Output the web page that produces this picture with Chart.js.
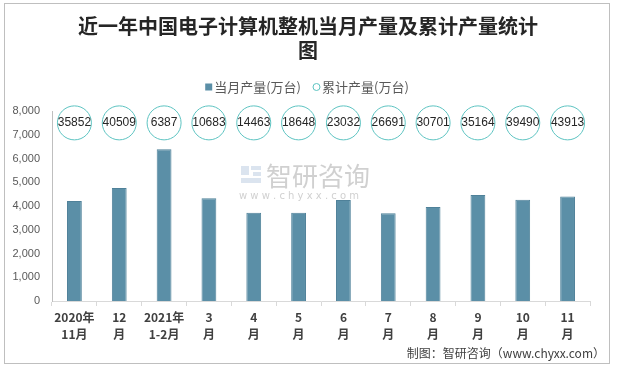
<!DOCTYPE html>
<html>
<head>
<meta charset="utf-8">
<script src="https://cdn.jsdelivr.net/npm/chart.js@4.4.1/dist/chart.umd.min.js"></script>
<style>
  html, body { margin: 0; padding: 0; background: #fff; }
  #wrap { width: 618px; height: 367px; position: relative; }
</style>
</head>
<body>
<div id="wrap"><canvas id="chart"></canvas></div>
<script>
// data
const categories = [
  ['2020年', '11月'], ['12', '月'], ['2021年', '1-2月'], ['3', '月'], ['4', '月'], ['5', '月'],
  ['6', '月'], ['7', '月'], ['8', '月'], ['9', '月'], ['10', '月'], ['11', '月']
];
const monthlyOutput = [4210, 4760, 6387, 4330, 3720, 3720, 4250, 3700, 3960, 4460, 4260, 4400];
const cumulativeOutput = [35852, 40509, 6387, 10683, 14463, 18648, 23032, 26691, 30701, 35164, 39490, 43913];
const labelRow = categories.map(() => 7500); // height where the cumulative circles sit
const yTicks = [0, 1000, 2000, 3000, 4000, 5000, 6000, 7000, 8000];

const titleLines = ['近一年中国电子计算机整机当月产量及累计产量统计', '图'];
const seriesNames = ['当月产量(万台)', '累计产量(万台)'];
const sourceText = '制图：智研咨询（www.chyxx.com）';

const BAR_COLOR = '#5b8fa7';
const RING_COLOR = '#5cc3c1';
const CJK = '"Noto Sans CJK SC", sans-serif';

// title, legend, watermark, footer and frame drawn around the plot
const decorations = {
  id: 'decorations',
  beforeDatasetsDraw(chart) {
    const ctx = chart.ctx;
    ctx.save();
    // watermark
    ctx.fillStyle = 'rgba(190,205,225,0.55)';
    ctx.fillRect(241, 166, 8, 9);
    ctx.fillRect(251, 166, 10, 4);
    ctx.fillRect(253, 172, 8, 4);
    ctx.fillRect(241, 178, 20, 5);
    ctx.fillStyle = 'rgba(170,170,170,0.55)';
    ctx.font = '26px ' + CJK;
    ctx.textBaseline = 'middle';
    ctx.textAlign = 'left';
    ctx.fillText('智研咨询', 266, 176);
    ctx.font = '10px "DejaVu Sans", sans-serif';
    ctx.fillText('w w w . c h y x x . c o m', 239, 196);
    ctx.restore();
  },
  afterDraw(chart) {
    const ctx = chart.ctx;
    ctx.save();
    // frame
    ctx.strokeStyle = '#bfbfbf';
    ctx.lineWidth = 1;
    ctx.strokeRect(4.5, 3.5, 605, 360);

    // title
    ctx.fillStyle = '#262626';
    ctx.font = 'bold 20px ' + CJK;
    ctx.textAlign = 'center';
    ctx.textBaseline = 'middle';
    ctx.fillText(titleLines[0], 308, 26);
    ctx.fillText(titleLines[1], 308, 50);

    // legend
    ctx.font = '13px ' + CJK;
    ctx.textAlign = 'left';
    const w1 = ctx.measureText(seriesNames[0]).width;
    const w2 = ctx.measureText(seriesNames[1]).width;
    const gap = 12;
    const total = 9 + w1 + gap + 9 + w2;
    let x = 307 - total / 2;
    const ly = 87;
    ctx.fillStyle = BAR_COLOR;
    ctx.fillRect(x, ly - 3.5, 7, 7);
    ctx.fillStyle = '#595959';
    ctx.fillText(seriesNames[0], x + 9, ly);
    x += 9 + w1 + gap;
    ctx.strokeStyle = RING_COLOR;
    ctx.beginPath();
    ctx.arc(x + 3.5, ly, 3.5, 0, Math.PI * 2);
    ctx.stroke();
    ctx.fillText(seriesNames[1], x + 9, ly);

    // cumulative values inside circles
    const meta = chart.getDatasetMeta(1);
    ctx.fillStyle = '#262626';
    ctx.font = '12px "Liberation Sans", sans-serif';
    ctx.textAlign = 'center';
    meta.data.forEach((pt, i) => {
      ctx.fillText(String(cumulativeOutput[i]), pt.x, pt.y);
    });

    // source
    ctx.fillStyle = '#404040';
    ctx.font = '12px ' + CJK;
    ctx.textAlign = 'right';
    ctx.fillText(sourceText, 605, 353);
    ctx.restore();
  }
};

new Chart(document.getElementById('chart'), {
  type: 'bar',
  data: {
    labels: categories,
    datasets: [
      {
        label: seriesNames[0],
        data: monthlyOutput,
        backgroundColor: BAR_COLOR,
        borderColor: '#4f8199',
        borderWidth: 1,
        barPercentage: 0.66,
        categoryPercentage: 0.5,
        order: 2
      },
      {
        type: 'line',
        label: seriesNames[1],
        data: labelRow,
        showLine: false,
        clip: false,
        pointRadius: 17,
        pointHoverRadius: 17,
        pointBorderWidth: 1,
        pointBorderColor: RING_COLOR,
        pointBackgroundColor: 'rgba(255,255,255,0)',
        order: 1
      }
    ]
  },
  options: {
    responsive: true,
    maintainAspectRatio: false,
    animation: false,
    layout: { padding: { top: 111, right: 28, bottom: 0, left: 0 } },
    plugins: {
      legend: { display: false },
      title: { display: false },
      tooltip: { enabled: false }
    },
    scales: {
      x: {
        grid: {
          display: true,
          drawOnChartArea: false,
          drawTicks: true,
          tickLength: 5,
          color: '#d9d9d9',
          offset: true
        },
        border: { display: true, color: '#d9d9d9' },
        ticks: {
          color: '#404040',
          font: { family: CJK, size: 12, weight: 'bold', lineHeight: 1.4 },
          padding: 3,
          maxRotation: 0,
          autoSkip: false
        },
        afterFit(scale) { scale.height = 66; }
      },
      y: {
        min: 0,
        max: 8000,
        afterBuildTicks(scale) { scale.ticks = yTicks.map(v => ({ value: v })); },
        grid: { display: false, drawTicks: false },
        border: { display: true, color: '#bfbfbf' },
        ticks: {
          color: '#595959',
          font: { family: '"Liberation Sans", sans-serif', size: 11 },
          padding: 12,
          callback: (v) => v.toLocaleString('en-US')
        },
        afterFit(scale) { scale.width = 52; }
      }
    }
  },
  plugins: [decorations]
});
</script>
</body>
</html>
